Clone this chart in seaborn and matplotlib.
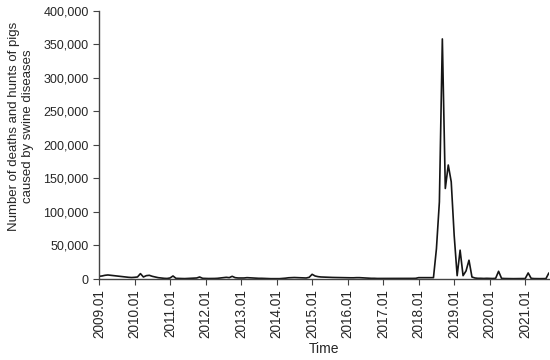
import pandas as pd
import numpy as np
import matplotlib.pyplot as plt
import matplotlib.ticker as mticker
import seaborn as sns

# Monthly deaths and hunts of pigs caused by swine diseases
y2009 = [4000, 4500, 5500, 6000, 5500, 5000, 4500, 4000, 3500, 3000, 2500, 2200]
y2010 = [2500, 3000, 8000, 3000, 5000, 5500, 4000, 3000, 2000, 1500, 1000, 800]
y2011 = [1500, 4500, 1000, 800, 700, 600, 800, 1000, 1200, 1500, 3000, 1000]
y2012 = [800, 700, 700, 800, 1000, 1500, 2000, 2500, 2000, 4000, 2000, 1500]
y2013 = [1500, 1500, 2000, 1800, 1500, 1200, 1000, 1000, 800, 600, 500, 500]
y2014 = [500, 500, 800, 1200, 1800, 2000, 2200, 2000, 1800, 1500, 1500, 2500]
y2015 = [7000, 4500, 3500, 3000, 2800, 2500, 2500, 2300, 2200, 2000, 2000, 1800]
y2016 = [1800, 1800, 1800, 2000, 2000, 1800, 1500, 1200, 1000, 1000, 800, 800]
y2017 = [700, 700, 700, 700, 700, 700, 800, 800, 800, 900, 900, 1000]
y2018 = [2000, 2000, 2000, 2000, 2000, 2000, 45000, 115000, 358000, 135000, 170000, 145000]
y2019 = [65000, 5000, 43000, 5000, 12000, 28000, 3000, 1500, 1000, 1000, 800, 1000]
y2020 = [800, 700, 1000, 11500, 1000, 700, 600, 600, 500, 500, 600, 700]
y2021 = [700, 9000, 1000, 600, 500, 500, 500, 600, 9000]

values = y2009 + y2010 + y2011 + y2012 + y2013 + y2014 + y2015 + y2016 + y2017 + y2018 + y2019 + y2020 + y2021
tick_years = list(range(2009, 2022))

df = pd.DataFrame({
    "month": np.arange(len(values)),
    "deaths": values,
})

sns.set_style("ticks")
plt.rcParams['font.family'] = ['Liberation Sans', 'DejaVu Sans']

fig = plt.figure(figsize=(5.5, 3.6), dpi=100)
ax = fig.add_axes([0.18, 0.225, 0.818, 0.745])

sns.lineplot(data=df, x="month", y="deaths", color="#151515", linewidth=1.2, ax=ax)

ax.set_xlim(0, len(values) - 1)
ax.set_ylim(0, 400000)
ax.set_xticks([12 * i for i in range(len(tick_years))])
ax.set_xticklabels([f"{y}.01" for y in tick_years], rotation=90, fontsize=9.8)
ax.set_yticks(range(0, 400001, 50000))
ax.yaxis.set_major_formatter(mticker.FuncFormatter(lambda v, p: f"{int(v):,}"))
ax.tick_params(axis="y", labelsize=9, length=4, color="#444444")
ax.tick_params(axis="x", length=4, color="#444444")

ax.set_xlabel("Time", fontsize=10)
ax.set_ylabel("Number of deaths and hunts of pigs\ncaused by swine diseases", fontsize=9.5)
ax.yaxis.set_label_coords(-0.145, 0.57)
ax.xaxis.set_label_coords(0.5, -0.235)

sns.despine(ax=ax)
for s in ["left", "bottom"]:
    ax.spines[s].set_color("#444444")
    ax.spines[s].set_linewidth(1.0)

fig.savefig("out.png", dpi=100)
plt.close()
